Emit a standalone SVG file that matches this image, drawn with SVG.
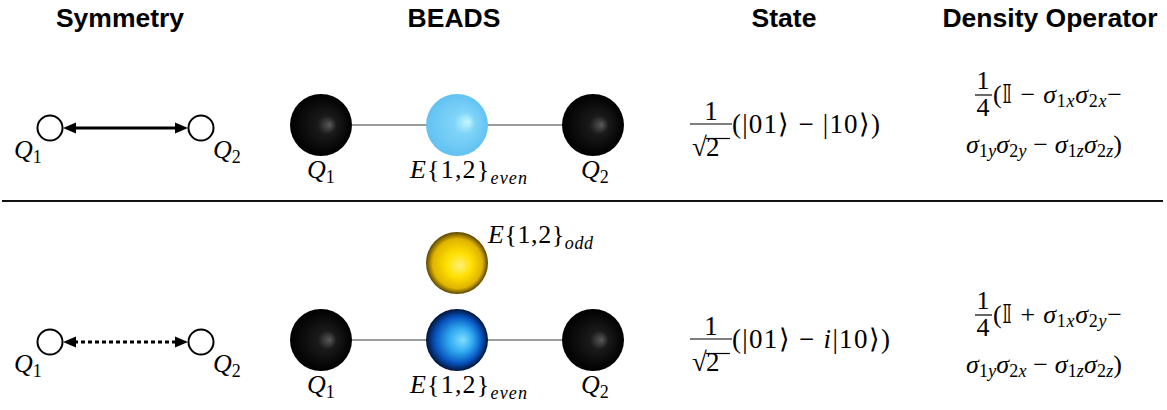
<svg xmlns="http://www.w3.org/2000/svg" width="1167" height="410" viewBox="0 0 1167 410">
<style>
.hdr{font-family:"Liberation Sans",Arial,sans-serif;font-weight:bold;font-size:26.5px;fill:#000;text-anchor:middle}
.m{font-family:"Liberation Serif","Times New Roman",serif;font-size:26px;fill:#000}
.big{font-size:27px}
.it{font-style:italic}
.sub{font-size:18px}
.qc{fill:#fff;stroke:#000;stroke-width:2}
.bond{stroke:#7a7a7a;stroke-width:1.6}
.arr{stroke:#000;stroke-width:3;fill:none}
.frac{stroke:#000;stroke-width:1.2}
</style>
<defs>
<marker id="ah" markerUnits="userSpaceOnUse" markerWidth="13" markerHeight="12" refX="2" refY="6" orient="auto-start-reverse" viewBox="0 0 13 12">
<path d="M0,0.5 L13,6 L0,11.5 z" fill="#000"/>
</marker>
<radialGradient id="gBlack" cx="0.5" cy="0.5" r="0.5" fx="0.64" fy="0.5">
<stop offset="0" stop-color="#5a5a5a"/>
<stop offset="0.3" stop-color="#1a1a1a"/>
<stop offset="1" stop-color="#000"/>
</radialGradient>
<radialGradient id="gLight" cx="0.5" cy="0.5" r="0.5" fx="0.68" fy="0.45">
<stop offset="0" stop-color="#c4f8ff"/>
<stop offset="0.35" stop-color="#7fd4f8"/>
<stop offset="1" stop-color="#62c2f2"/>
</radialGradient>
<radialGradient id="gDark" cx="0.5" cy="0.5" r="0.5" fx="0.6" fy="0.5">
<stop offset="0" stop-color="#7fe0ff"/>
<stop offset="0.4" stop-color="#2fa8f0"/>
<stop offset="0.75" stop-color="#0855c0"/>
<stop offset="1" stop-color="#01143a"/>
</radialGradient>
<radialGradient id="gYellow" cx="0.5" cy="0.5" r="0.5" fx="0.55" fy="0.55">
<stop offset="0" stop-color="#fff07a"/>
<stop offset="0.4" stop-color="#ffe000"/>
<stop offset="0.8" stop-color="#e0b400"/>
<stop offset="1" stop-color="#5a4400"/>
</radialGradient>
</defs>

<g id="headers">
<text class="hdr" x="120" y="27">Symmetry</text>
<text class="hdr" x="454" y="27">BEADS</text>
<text class="hdr" x="784" y="27">State</text>
<text class="hdr" x="1050" y="27">Density Operator</text>
</g>

<line id="divider" x1="2" y1="201" x2="1163" y2="201" stroke="#111" stroke-width="2.2"/>

<g id="connectors">
<line class="arr" x1="74" y1="128" x2="177" y2="128" marker-start="url(#ah)" marker-end="url(#ah)"/>
<line class="arr" x1="74" y1="342" x2="177" y2="342" stroke-dasharray="4 3" marker-start="url(#ah)" marker-end="url(#ah)"/>
<line class="bond" x1="352" y1="125" x2="562" y2="125"/>
<line class="bond" x1="352" y1="340" x2="562" y2="340"/>
</g>

<g id="sym1-q1"><circle class="qc" cx="50" cy="128" r="12.5"/><text class="m" x="14" y="158"><tspan class="it">Q</tspan><tspan class="sub" dy="5">1</tspan></text></g>
<g id="sym1-q2"><circle class="qc" cx="201" cy="128" r="12.5"/><text class="m" x="213" y="158"><tspan class="it">Q</tspan><tspan class="sub" dy="5">2</tspan></text></g>
<g id="sym2-q1"><circle class="qc" cx="50" cy="342" r="12.5"/><text class="m" x="14" y="372"><tspan class="it">Q</tspan><tspan class="sub" dy="5">1</tspan></text></g>
<g id="sym2-q2"><circle class="qc" cx="201" cy="342" r="12.5"/><text class="m" x="213" y="372"><tspan class="it">Q</tspan><tspan class="sub" dy="5">2</tspan></text></g>

<g id="bead1-q1"><circle cx="321" cy="125" r="31" fill="url(#gBlack)"/><text class="m" x="307" y="178"><tspan class="it">Q</tspan><tspan class="sub" dy="5">1</tspan></text></g>
<g id="bead1-e"><circle cx="457" cy="125" r="31" fill="url(#gLight)"/><text class="m" x="410" y="178" textLength="117" lengthAdjust="spacing"><tspan class="it">E</tspan>{1,2}<tspan class="sub it" dy="6">even</tspan></text></g>
<g id="bead1-q2"><circle cx="593" cy="125" r="31" fill="url(#gBlack)"/><text class="m" x="581" y="178"><tspan class="it">Q</tspan><tspan class="sub" dy="5">2</tspan></text></g>

<g id="bead2-odd"><circle cx="457" cy="263" r="31" fill="url(#gYellow)"/><text class="m" x="488" y="243" textLength="105" lengthAdjust="spacing"><tspan class="it">E</tspan>{1,2}<tspan class="sub it" dy="6">odd</tspan></text></g>
<g id="bead2-q1"><circle cx="321" cy="340" r="31" fill="url(#gBlack)"/><text class="m" x="307" y="393"><tspan class="it">Q</tspan><tspan class="sub" dy="5">1</tspan></text></g>
<g id="bead2-e"><circle cx="457" cy="340" r="31" fill="url(#gDark)"/><text class="m" x="410" y="393" textLength="117" lengthAdjust="spacing"><tspan class="it">E</tspan>{1,2}<tspan class="sub it" dy="6">even</tspan></text></g>
<g id="bead2-q2"><circle cx="593" cy="340" r="31" fill="url(#gBlack)"/><text class="m" x="581" y="393"><tspan class="it">Q</tspan><tspan class="sub" dy="5">2</tspan></text></g>

<g id="state1">
<text class="m big" x="711" y="120" text-anchor="middle">1</text>
<line class="frac" x1="690" y1="124" x2="732" y2="124"/>
<text class="m big" x="692" y="156">√</text>
<line class="frac" x1="706" y1="138.5" x2="730" y2="138.5"/>
<text class="m big" x="706" y="156">2</text>
<text class="m big" x="732" y="133" textLength="148" lengthAdjust="spacing">(|01⟩ − |10⟩)</text>
</g>
<g id="state2">
<text class="m big" x="711" y="335" text-anchor="middle">1</text>
<line class="frac" x1="690" y1="339" x2="732" y2="339"/>
<text class="m big" x="692" y="371">√</text>
<line class="frac" x1="706" y1="353.5" x2="730" y2="353.5"/>
<text class="m big" x="706" y="371">2</text>
<text class="m big" x="732" y="348" textLength="158" lengthAdjust="spacing">(|01⟩ − <tspan class="it">i</tspan>|10⟩)</text>
</g>

<g id="density1">
<text class="m" x="983" y="89" text-anchor="middle">1</text>
<line class="frac" x1="975" y1="95" x2="992" y2="95"/>
<text class="m" x="983" y="116" text-anchor="middle">4</text>
<text class="m" x="993" y="103" textLength="129" lengthAdjust="spacing">(𝕀 − <tspan class="it">σ</tspan><tspan class="sub" dy="4">1<tspan class="it">x</tspan></tspan><tspan class="it" dy="-4">σ</tspan><tspan class="sub" dy="4">2<tspan class="it">x</tspan></tspan><tspan dy="-4">−</tspan></text>
<text class="m" x="966" y="153" textLength="156" lengthAdjust="spacing"><tspan class="it">σ</tspan><tspan class="sub" dy="4">1<tspan class="it">y</tspan></tspan><tspan class="it" dy="-4">σ</tspan><tspan class="sub" dy="4">2<tspan class="it">y</tspan></tspan><tspan dy="-4"> − </tspan><tspan class="it">σ</tspan><tspan class="sub" dy="4">1<tspan class="it">z</tspan></tspan><tspan class="it" dy="-4">σ</tspan><tspan class="sub" dy="4">2<tspan class="it">z</tspan></tspan><tspan dy="-4">)</tspan></text>
</g>
<g id="density2">
<text class="m" x="983" y="309" text-anchor="middle">1</text>
<line class="frac" x1="975" y1="315" x2="992" y2="315"/>
<text class="m" x="983" y="336" text-anchor="middle">4</text>
<text class="m" x="993" y="323" textLength="129" lengthAdjust="spacing">(𝕀 + <tspan class="it">σ</tspan><tspan class="sub" dy="4">1<tspan class="it">x</tspan></tspan><tspan class="it" dy="-4">σ</tspan><tspan class="sub" dy="4">2<tspan class="it">y</tspan></tspan><tspan dy="-4">−</tspan></text>
<text class="m" x="966" y="373" textLength="156" lengthAdjust="spacing"><tspan class="it">σ</tspan><tspan class="sub" dy="4">1<tspan class="it">y</tspan></tspan><tspan class="it" dy="-4">σ</tspan><tspan class="sub" dy="4">2<tspan class="it">x</tspan></tspan><tspan dy="-4"> − </tspan><tspan class="it">σ</tspan><tspan class="sub" dy="4">1<tspan class="it">z</tspan></tspan><tspan class="it" dy="-4">σ</tspan><tspan class="sub" dy="4">2<tspan class="it">z</tspan></tspan><tspan dy="-4">)</tspan></text>
</g>
</svg>
